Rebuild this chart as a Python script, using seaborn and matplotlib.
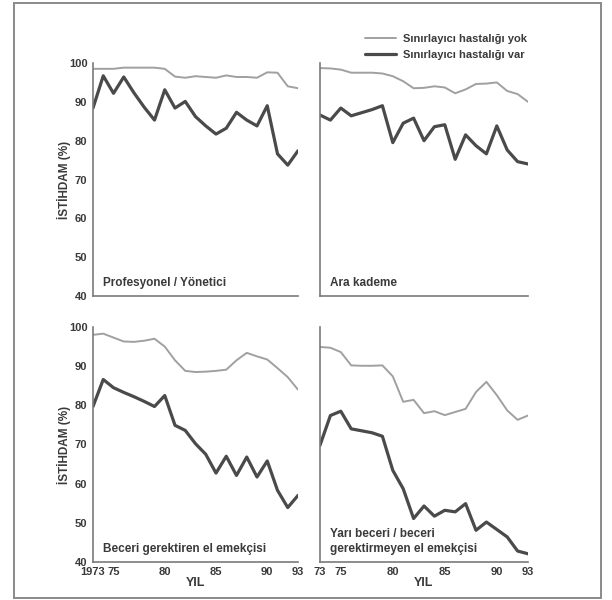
"""
Employment rates (%) 1973-1993 by occupational class, for people with and
without a limiting long-standing illness. 2 x 2 panel line chart.
"""

import matplotlib
matplotlib.use("Agg")
import matplotlib.pyplot as plt
import pandas as pd
import seaborn as sns
from matplotlib.patches import Rectangle

# ---------------------------------------------------------------------------
# DATA
# ---------------------------------------------------------------------------
YEARS = list(range(1973, 1994))

SERIES_NO = "Sınırlayıcı hastalığı yok"
SERIES_YES = "Sınırlayıcı hastalığı var"

PANEL_TITLES = [
    "Profesyonel / Yönetici",
    "Ara kademe",
    "Beceri gerektiren el emekçisi",
    "Yarı beceri / beceri\ngerektirmeyen el emekçisi",
]

prof_no = [98.5, 98.5, 98.5, 98.8, 98.8, 98.8, 98.8, 98.5, 96.5, 96.2, 96.6,
           96.4, 96.2, 96.8, 96.4, 96.4, 96.2, 97.6, 97.5, 94.0, 93.5]
prof_yes = [88.4, 96.7, 92.2, 96.4, 92.3, 88.6, 85.3, 93.1, 88.4, 90.1, 86.2,
            83.8, 81.7, 83.2, 87.3, 85.3, 83.8, 89.0, 76.6, 73.7, 77.4]

mid_no = [98.7, 98.6, 98.3, 97.5, 97.5, 97.5, 97.3, 96.6, 95.3, 93.5, 93.6,
          94.0, 93.7, 92.2, 93.2, 94.6, 94.7, 95.0, 92.8, 92.0, 90.0]
mid_yes = [86.6, 85.3, 88.4, 86.4, 87.2, 88.0, 89.0, 79.5, 84.5, 85.8, 80.0,
           83.6, 84.1, 75.2, 81.5, 78.7, 76.6, 83.8, 77.6, 74.6, 74.0]

skilled_no = [98.0, 98.3, 97.3, 96.3, 96.2, 96.5, 97.0, 95.0, 91.5, 88.8, 88.5,
              88.6, 88.8, 89.1, 91.5, 93.4, 92.5, 91.7, 89.5, 87.2, 84.0]
skilled_yes = [79.7, 86.6, 84.5, 83.3, 82.2, 81.0, 79.7, 82.5, 74.9, 73.6, 70.2,
               67.5, 62.7, 67.0, 62.1, 66.8, 61.7, 65.8, 58.3, 53.9, 57.0]

semi_no = [94.9, 94.7, 93.6, 90.2, 90.1, 90.1, 90.2, 87.4, 80.9, 81.4, 78.0,
           78.5, 77.5, 78.3, 79.1, 83.4, 86.0, 82.6, 78.7, 76.3, 77.4]
semi_yes = [69.8, 77.4, 78.5, 74.0, 73.5, 73.0, 72.1, 63.4, 58.7, 51.1, 54.3,
            51.7, 53.2, 52.8, 54.9, 48.1, 50.2, 48.3, 46.4, 42.8, 42.1]

PANEL_DATA = [
    (prof_no, prof_yes),
    (mid_no, mid_yes),
    (skilled_no, skilled_yes),
    (semi_no, semi_yes),
]

LEFT_TICKLABELS = {1973: "1973", 1975: "75", 1980: "80", 1985: "85",
                   1990: "90", 1993: "93"}
RIGHT_TICKLABELS = {1973: "73", 1975: "75", 1980: "80", 1985: "85",
                    1990: "90", 1993: "93"}
Y_TICKS = [40, 50, 60, 70, 80, 90, 100]

# ---------------------------------------------------------------------------
# STYLE
# ---------------------------------------------------------------------------
COLORS = {SERIES_NO: "#a0a0a0", SERIES_YES: "#4a4a4a"}
WIDTHS = {SERIES_NO: 1.4, SERIES_YES: 2.3}
AXIS_COLOR = "#7a7a7a"
TEXT_COLOR = "#3a3a3a"

sns.set_theme(style="white")
plt.rcParams["font.family"] = ["Liberation Sans Narrow", "Liberation Sans",
                               "DejaVu Sans"]
plt.rcParams["font.weight"] = "bold"

W, H = 612, 600
fig = plt.figure(figsize=(W / 100, H / 100), dpi=100)

# axes boxes in pixels: (left, top, right, bottom)
boxes = [
    (93, 63, 298, 296),
    (320, 63, 528, 296),
    (93, 327, 298, 562),
    (320, 327, 528, 562),
]

for i, (box, title, (no_vals, yes_vals)) in enumerate(
        zip(boxes, PANEL_TITLES, PANEL_DATA)):
    l, t, r, b = box
    ax = fig.add_axes([l / W, 1 - b / H, (r - l) / W, (b - t) / H])

    df = pd.DataFrame({
        "year": YEARS * 2,
        "value": no_vals + yes_vals,
        "series": [SERIES_NO] * len(YEARS) + [SERIES_YES] * len(YEARS),
    })
    for name in (SERIES_NO, SERIES_YES):
        sns.lineplot(data=df[df["series"] == name], x="year", y="value",
                     ax=ax, color=COLORS[name], linewidth=WIDTHS[name],
                     label=name, legend=False)

    ax.set_xlim(1973, 1993)
    ax.set_ylim(40, 100)
    ax.set_facecolor("none")
    for side in ("top", "right"):
        ax.spines[side].set_visible(False)
    for side in ("left", "bottom"):
        ax.spines[side].set_color(AXIS_COLOR)
        ax.spines[side].set_linewidth(1.2)

    ax.set_xticks(YEARS)
    ax.set_yticks(Y_TICKS)
    ax.tick_params(axis="both", direction="out", length=3, width=0.9,
                   color=AXIS_COLOR, labelcolor=TEXT_COLOR, labelsize=8,
                   pad=1)
    ax.tick_params(axis="x", pad=0.5)

    is_left = i % 2 == 0
    is_bottom = i >= 2

    if is_left:
        ax.set_yticklabels([str(v) for v in Y_TICKS])
        ax.set_ylabel("İSTİHDAM (%)", fontsize=8.5, color=TEXT_COLOR,
                      fontweight="bold")
        ax.yaxis.set_label_coords(-0.105, 0.5)
    else:
        ax.set_yticklabels([])
        ax.set_ylabel("")

    if is_bottom:
        labels = LEFT_TICKLABELS if is_left else RIGHT_TICKLABELS
        ax.set_xticklabels([labels.get(y, "") for y in YEARS])
        ax.set_xlabel("YIL", fontsize=9, color=TEXT_COLOR, fontweight="bold",
                      labelpad=0)
    else:
        ax.set_xticklabels([])
        ax.set_xlabel("")

    ax.text(0.05, 0.03, title, transform=ax.transAxes, ha="left",
            va="bottom", fontsize=8.5, color=TEXT_COLOR, fontweight="bold",
            linespacing=1.3)

# legend at the top right
handles, labels = fig.axes[0].get_legend_handles_labels()
fig.legend(handles, labels, loc="upper left",
           bbox_to_anchor=(355 / W, 1 - 24 / H), frameon=False,
           fontsize=8, handlelength=2.8, handletextpad=0.6,
           labelspacing=0.55, labelcolor=TEXT_COLOR)

# grey frame round the whole figure
fig.patches.append(Rectangle((14 / W, 1 - 598 / H), (601 - 14) / W,
                             (598 - 3) / H, transform=fig.transFigure,
                             fill=False, edgecolor="#8a8a8a", linewidth=1.4))

fig.savefig("out.png", dpi=100)
